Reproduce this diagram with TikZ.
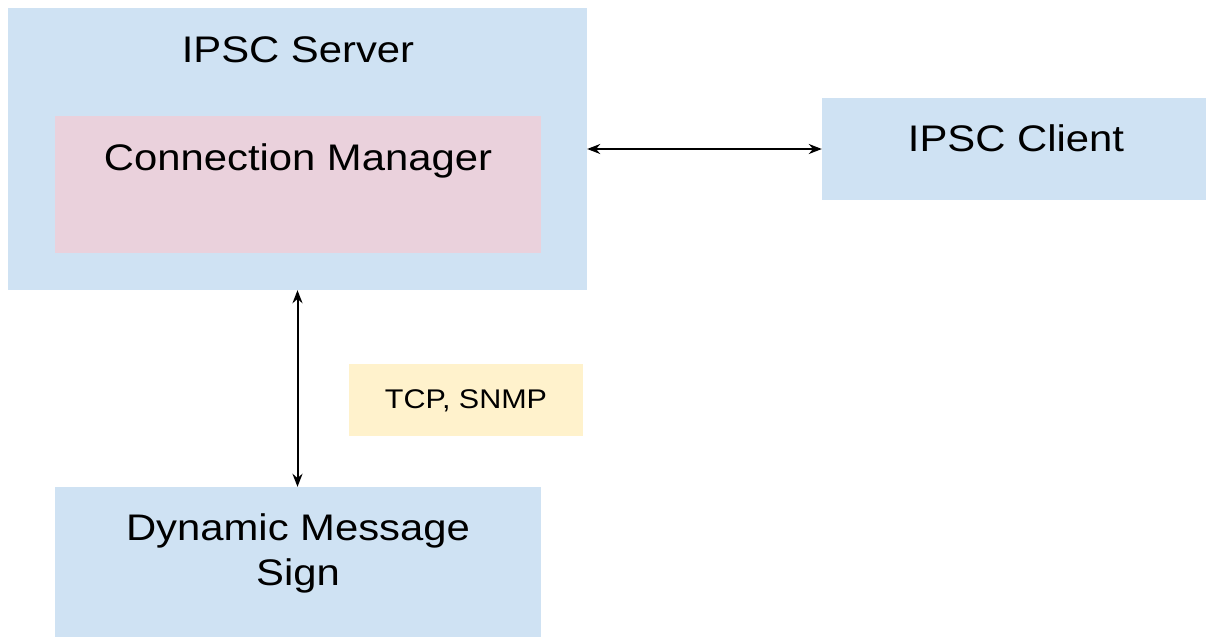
\documentclass[tikz,border=0pt]{standalone}
\usepackage{fontspec}
\setmainfont{Liberation Sans}[FakeStretch=1.13]
\usetikzlibrary{arrows.meta}
\definecolor{boxblue}{HTML}{CFE2F3}
\definecolor{boxpink}{HTML}{EAD1DC}
\definecolor{boxyellow}{HTML}{FFF2CC}
\tikzset{
  blk/.style={rectangle, draw=none, inner sep=0pt},
  lbl/.style={inner sep=0pt, anchor=base, font=\fontsize{37}{46}\selectfont},
  conn/.style={line width=2pt, {Stealth[length=13pt,width=10pt]}-{Stealth[length=13pt,width=10pt]}}
}
\begin{document}
\begin{tikzpicture}[x=1pt,y=-1pt]
\useasboundingbox (0,0) rectangle (1206,637);
\node[blk, fill=boxblue, minimum width=579pt, minimum height=282pt] (server) at (297.5,149) {};
\node[blk, fill=boxpink, minimum width=486pt, minimum height=137pt] (cm) at (298,184.5) {};
\node[blk, fill=boxblue, minimum width=384pt, minimum height=102pt] (client) at (1014,149) {};
\node[blk, fill=boxblue, minimum width=486pt, minimum height=150pt] (dms) at (298,562) {};
\node[blk, fill=boxyellow, minimum width=234pt, minimum height=72pt] (tcp) at (466,400) {};
\node[lbl] (serverlbl) at (298,62) {IPSC Server};
\node[lbl] (cmlbl) at (298,170) {Connection Manager};
\node[lbl] (clientlbl) at (1016,151) {IPSC Client};
\node[lbl] (dms1) at (298,540) {Dynamic Message};
\node[lbl] (dms2) at (298,585) {Sign};
\node[lbl, font=\fontsize{27}{31}\selectfont] (tcplbl) at (466,408) {TCP, SNMP};
\draw[conn] (server.east) -- (client.west);
\draw[conn] (server.south) -- (server.south |- dms.north);
\end{tikzpicture}
\end{document}
